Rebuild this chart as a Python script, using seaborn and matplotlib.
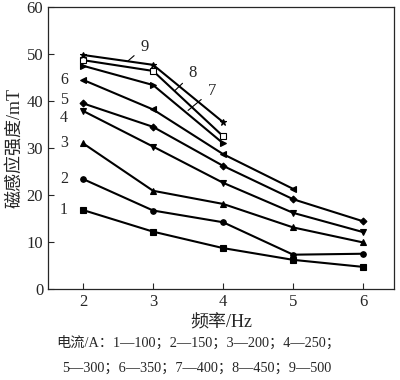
import numpy as np
import pandas as pd
import seaborn as sns
import matplotlib.pyplot as plt

# frequency (Hz) and magnetic induction (mT) per current setting
freq = [2, 3, 4, 5, 6]
s1 = [16.8, 12.2, 8.7, 6.2, 4.7]
s2 = [23.4, 16.7, 14.2, 7.3, 7.5]
s3 = [31.0, 20.9, 18.1, 13.1, 9.9]
s4 = [37.9, 30.3, 22.6, 16.2, 12.1]
s5 = [39.5, 34.5, 26.2, 19.1, 14.4]
s6 = [44.5, 38.2, 28.7, 21.3]
s7 = [47.5, 43.4, 31.0]
s8 = [48.7, 46.4, 32.5]
s9 = [49.8, 47.7, 35.5]
series = [s1, s2, s3, s4, s5, s6, s7, s8, s9]
labels = ["1", "2", "3", "4", "5", "6", "7", "8", "9"]
markers = ["s", "o", "^", "v", "D", "<", ">", "s", "*"]
# y positions of the curve numbers at the left
label_y = [16.8, 23.4, 31.0, 36.4, 40.2, 44.5]

sns.set_style("ticks")
plt.rcParams['font.family'] = ['Liberation Serif', 'Noto Sans CJK SC']
plt.rcParams['xtick.direction'] = 'in'
plt.rcParams['ytick.direction'] = 'in'

fig = plt.figure(figsize=(4, 3.8), dpi=100)
ax = fig.add_axes([0.12, 0.2395, 0.865, 0.742])

for i, vals in enumerate(series):
    df = pd.DataFrame({"f": freq[:len(vals)], "B": vals})
    face = "white" if i == 7 else "black"
    ms = 5 if markers[i] in ("s", "*") else 4
    if markers[i] == "D":
        ms = 3.5
    sns.lineplot(data=df, x="f", y="B", ax=ax, color="black", lw=1.5,
                 marker=markers[i], markersize=ms, markerfacecolor=face,
                 markeredgecolor="black", markeredgewidth=0.8)

# left-side labels for curves 1-6
for i in range(6):
    ax.text(1.73, label_y[i], labels[i], fontsize=11.5, ha="center", va="center")

# leader-line labels for curves 7-9
leaders = [("9", (2.64, 48.5), (2.88, 51.6)),
           ("8", (3.31, 42.2), (3.57, 45.9)),
           ("7", (3.5, 38.0), (3.84, 42.2))]
for txt, xy, xyt in leaders:
    ax.annotate(txt, xy=xy, xytext=xyt, fontsize=12, ha="center", va="center",
                arrowprops=dict(arrowstyle="-", lw=0.8, color="black",
                                shrinkA=3, shrinkB=0))

ax.set_xlim(1.5, 6.44)
ax.set_ylim(0, 60)
ax.set_xticks([2, 3, 4, 5, 6])
ax.set_yticks(range(0, 61, 10))
ax.tick_params(labelsize=12, length=4, width=0.8)
ax.set_xlabel("频率/Hz", fontsize=13, labelpad=3)
ax.set_ylabel("磁感应强度/mT", fontsize=13, labelpad=2)
for sp in ax.spines.values():
    sp.set_linewidth(0.9)

fig.text(0.14, 0.097, "电流/A：1—100；2—150；3—200；4—250；", fontsize=10.3, va="center")
fig.text(0.155, 0.03, "5—300；6—350；7—400；8—450；9—500", fontsize=10.3, va="center")

fig.savefig("out.png", dpi=100)
